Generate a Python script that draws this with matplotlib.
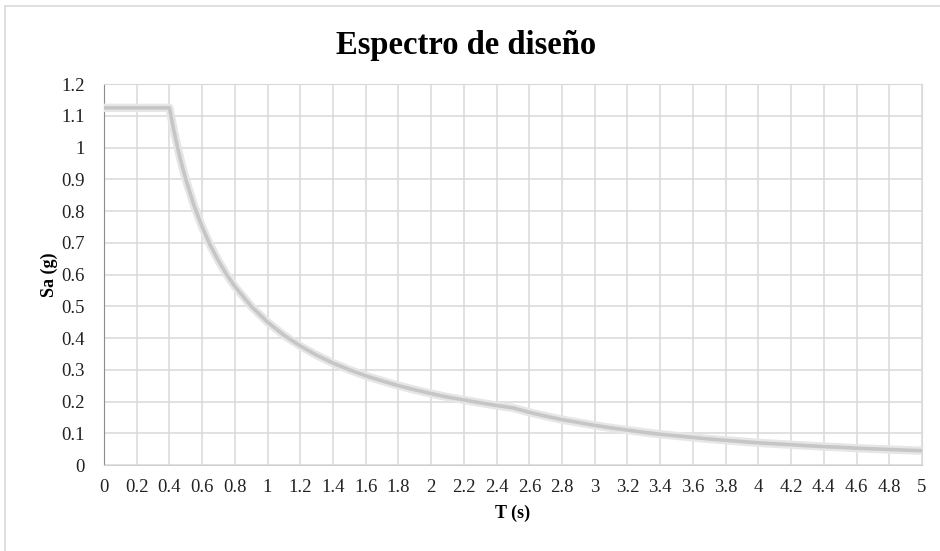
import matplotlib
matplotlib.use('Agg')
import matplotlib.pyplot as plt
from matplotlib.patches import Rectangle

# periods (s) and spectral acceleration (g)
periodo = [0.0, 0.1, 0.2, 0.3, 0.4, 0.425, 0.45, 0.475, 0.5, 0.55, 0.6, 0.65, 0.7, 0.75,
           0.8, 0.9, 1.0, 1.1, 1.2, 1.3, 1.4, 1.5, 1.6, 1.7, 1.8, 1.9, 2.0,
           2.1, 2.2, 2.3, 2.4, 2.5, 2.6, 2.7, 2.8, 2.9, 3.0,
           3.1, 3.2, 3.3, 3.4, 3.5, 3.6, 3.7, 3.8, 3.9, 4.0,
           4.1, 4.2, 4.3, 4.4, 4.5, 4.6, 4.7, 4.8, 4.9, 5.0]
sa = [1.125, 1.125, 1.125, 1.125, 1.125, 1.059, 1.0, 0.947, 0.90, 0.818, 0.75, 0.692, 0.643, 0.60,
      0.5625, 0.50, 0.45, 0.409, 0.375, 0.346, 0.321, 0.30, 0.281, 0.265, 0.25, 0.237, 0.225,
      0.214, 0.205, 0.196, 0.1875, 0.18, 0.166, 0.154, 0.143, 0.134, 0.125,
      0.117, 0.110, 0.103, 0.097, 0.092, 0.087, 0.082, 0.078, 0.074, 0.070,
      0.067, 0.064, 0.061, 0.058, 0.056, 0.053, 0.051, 0.049, 0.047, 0.045]

xticks = [round(0.2 * i, 1) for i in range(26)]
yticks = [round(0.1 * i, 1) for i in range(13)]

def fmt(v):
    return '%g' % v

plt.rcParams['font.family'] = ['Liberation Serif', 'DejaVu Serif']

fig = plt.figure(figsize=(9.4, 5.51), dpi=100)
fig.patches.append(Rectangle((0.0055, -0.01), 1.1, 1.0, transform=fig.transFigure,
                             fill=False, edgecolor='#d9d9d9', linewidth=1.2))

ax = fig.add_axes([0.1106, 0.156, 0.8702, 0.6915])

# soft halo + line to mimic the blurred grey stroke
ax.plot(periodo, sa, color='#e6e6e6', linewidth=6, solid_capstyle='butt', zorder=3)
ax.plot(periodo, sa, color='#c6c6c6', linewidth=2.6, solid_capstyle='butt', zorder=4)

ax.set_xlim(0, 5)
ax.set_ylim(0, 1.2)
ax.set_xticks(xticks)
ax.set_xticklabels([fmt(v) for v in xticks])
ax.set_yticks(yticks)
ax.set_yticklabels([fmt(v) for v in yticks])
ax.tick_params(length=0, labelsize=13.5, colors='#222222')
ax.tick_params(axis='x', pad=10)
ax.tick_params(axis='y', pad=14)
ax.grid(True, color='#d9d9d9', linewidth=1.1)
ax.set_axisbelow(True)

for s in ['top', 'right']:
    ax.spines[s].set_color('#d9d9d9')
ax.spines['left'].set_color('#8c8c8c')
ax.spines['bottom'].set_color('#d0d0d0')

ax.set_xlabel('T (s)', fontsize=13, fontweight='bold', labelpad=6)
ax.set_ylabel('Sa (g)', fontsize=13, fontweight='bold', labelpad=2)

fig.text(0.496, 0.918, 'Espectro de diseño', ha='center', va='center',
         fontsize=23.5, fontweight='bold')

fig.savefig('out.png', dpi=100)
